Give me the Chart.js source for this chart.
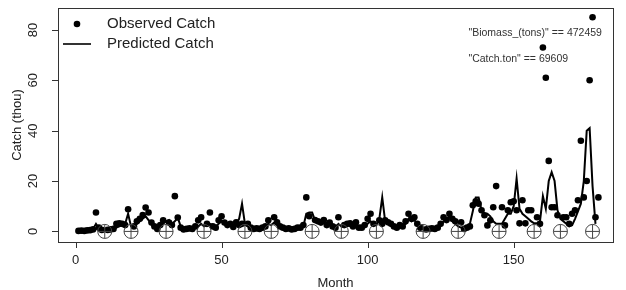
<!DOCTYPE html>
<html>
<head>
<meta charset="utf-8">
<script src="https://cdn.jsdelivr.net/npm/chart.js@4"></script>
<style>
  html, body { margin: 0; padding: 0; background: #fff; }
  #wrap { width: 626px; height: 290px; }
</style>
</head>
<body>
<div id="wrap"><canvas id="catchChart" width="626" height="290"></canvas></div>
<script>
// month index 1..179
const months = Array.from({ length: 179 }, (_, i) => i + 1);

const observedCatch = [
  0.2, 0.3, 0.2, 0.4, 0.5, 0.8, 7.5, 1.5, 0.6, null,
  0.6, 0.8, 1.0, 3.0, 3.2, 3.0, 2.5, 8.8, null, 2.0,
  4.0, 5.0, 6.5, 9.5, 7.5, 3.5, 2.0, 1.0, 2.5, 4.4,
  null, 3.5, 2.5, 14, 5.5, 1.5, 0.8, 1.0, 1.2, 1.0,
  2.0, 4.4, 5.6, null, 3.0, 7.5, 2.0, 1.5, 4.4, 6.0,
  3.5, 2.5, 3.0, 1.8, 3.6, 2.5, 3.0, null, 3.0, 1.5,
  1.0, 1.2, 1.0, 1.5, 2.0, 4.4, null, 5.6, 3.6, 2.0,
  1.5, 1.0, 1.2, 0.8, 1.0, 1.5, 1.5, 2.5, 13.5, 6.0,
  null, 4.5, 4.0, 3.5, 4.5, 2.5, 3.5, 2.0, 1.5, 5.6,
  null, 2.5, 3.0, 3.2, 2.0, 3.6, 1.5, 1.5, 2.5, 5.0,
  7.0, 3.0, null, 4.4, 3.0, 4.4, 3.6, 3.0, 2.0, 1.5,
  2.5, 2.0, 4.0, 7.0, 5.0, 5.6, 3.0, 1.5, null, 0.8,
  1.0, 1.2, 1.0, 1.5, 3.0, 5.6, 4.5, 7.0, 5.0, 4.0,
  null, 3.6, 1.0, 1.5, 2.0, 10.4, 12.0, 11.0, 8.4, 6.4,
  2.4, 4.4, 9.6, 18, null, 9.6, 2.4, 8.4, 11.6, 12.0,
  8.4, 3.2, 12.4, 3.2, 8.4, 8.4, null, 5.6, 3.0, 73,
  61, 28, 9.6, 9.6, 6.4, null, 5.6, 5.6, 3.0, 7.0,
  8.4, 12.4, 36, 13.5, 20, 60, 85, 5.6, 13.5
];

const predictedCatch = [
  0.3, 0.3, 0.3, 0.4, 0.5, 1.0, 3.0, 1.2, 0.5, 0.3,
  0.5, 0.8, 0.7, 1.5, 2.0, 2.5, 3.0, 7.0, 2.0, 1.5,
  3.0, 4.0, 5.0, 6.0, 4.5, 3.0, 2.0, 1.5, 2.0, 3.0,
  4.0, 4.5, 3.0, 4.0, 5.5, 2.0, 1.0, 0.8, 1.0, 1.2,
  1.5, 2.0, 3.0, 2.0, 2.5, 3.0, 2.5, 2.0, 3.0, 4.0,
  3.0, 2.5, 2.5, 2.0, 3.0, 5.0, 11.0, 3.0, 2.0, 1.5,
  1.2, 1.0, 1.2, 1.5, 2.0, 3.0, 2.5, 3.5, 2.5, 2.0,
  1.5, 1.2, 1.0, 0.8, 1.0, 1.2, 1.5, 2.0, 7.0, 7.5,
  7.5, 4.4, 3.5, 3.0, 3.5, 3.0, 2.5, 2.0, 1.5, 3.0,
  2.0, 2.0, 2.5, 2.0, 1.5, 2.5, 2.0, 1.5, 2.0, 3.0,
  4.0, 3.0, 2.5, 5.0, 13.5, 4.0, 3.0, 2.5, 2.0, 1.5,
  2.0, 2.5, 3.0, 5.0, 4.0, 4.5, 3.0, 1.5, 1.0, 0.8,
  0.8, 1.0, 1.2, 1.5, 2.5, 4.0, 5.0, 6.0, 4.0, 3.0,
  2.0, 1.5, 1.2, 1.5, 3.0, 8.0, 13.5, 13.5, 8.4, 7.0,
  7.0, 6.0, 4.0, 3.0, 3.0, 3.0, 5.0, 7.0, 7.0, 10.0,
  21.0, 9.0, 7.0, 6.0, 5.0, 4.0, 3.2, 3.2, 4.0, 14.0,
  9.0, 20.0, 23.5, 20.0, 8.4, 5.0, 4.0, 3.0, 2.0, 2.5,
  5.0, 8.0, 11.0, 20.0, 40.0, 41.0, 18.0, 3.0, null
];

// months marked with the crossed circle symbol (drawn at zero)
const markedMonths = [10, 19, 31, 44, 58, 67, 81, 91, 103, 119, 131, 145, 157, 166, 177];

const xTicks = [0, 50, 100, 150];
const yTicks = [0, 20, 40, 60, 80];

const legendLabels = ["Observed Catch", "Predicted Catch"];
const annotations = [
  { text: '"Biomass_(tons)" == 472459', x: 134.5, y: 78.8 },
  { text: '"Catch.ton" == 69609', x: 134.5, y: 68.5 },
];

const FONT = '"Liberation Sans", Arial, Helvetica, sans-serif';

function toPoints(xs, ys) {
  return xs.map((x, i) => ({ x: x, y: ys[i] }));
}

// base-graphics style box, axes, labels and legend
const baseAxes = {
  id: "baseAxes",
  afterDraw(chart) {
    const { ctx, chartArea: a, scales } = chart;
    const x = scales.x;
    const y = scales.y;
    ctx.save();
    ctx.strokeStyle = "#333";
    ctx.fillStyle = "#222";
    ctx.lineWidth = 1;
    ctx.strokeRect(a.left + 0.5, a.top + 0.5, a.right - a.left, a.bottom - a.top);

    // x axis
    ctx.font = "13px " + FONT;
    ctx.textAlign = "center";
    ctx.textBaseline = "middle";
    ctx.beginPath();
    ctx.moveTo(Math.round(x.getPixelForValue(xTicks[0])) + 0.5, a.bottom + 0.5);
    ctx.lineTo(Math.round(x.getPixelForValue(xTicks[xTicks.length - 1])) + 0.5, a.bottom + 0.5);
    xTicks.forEach((v) => {
      const px = Math.round(x.getPixelForValue(v)) + 0.5;
      ctx.moveTo(px, a.bottom);
      ctx.lineTo(px, a.bottom + 6);
    });
    ctx.stroke();
    xTicks.forEach((v) => {
      ctx.fillText(String(v), x.getPixelForValue(v), a.bottom + 18);
    });
    ctx.fillText("Month", (a.left + a.right) / 2, a.bottom + 41);

    // y axis
    ctx.beginPath();
    yTicks.forEach((v) => {
      const py = Math.round(y.getPixelForValue(v)) + 0.5;
      ctx.moveTo(a.left, py);
      ctx.lineTo(a.left - 6, py);
    });
    ctx.stroke();
    yTicks.forEach((v) => {
      ctx.save();
      ctx.translate(a.left - 25, y.getPixelForValue(v));
      ctx.rotate(-Math.PI / 2);
      ctx.fillText(String(v), 0, 0);
      ctx.restore();
    });
    ctx.save();
    ctx.translate(17, (a.top + a.bottom) / 2);
    ctx.rotate(-Math.PI / 2);
    ctx.fillText("Catch (thou)", 0, 0);
    ctx.restore();

    // legend, top left inside the box
    ctx.font = "15px " + FONT;
    ctx.textAlign = "left";
    ctx.fillStyle = "#000";
    ctx.beginPath();
    ctx.arc(a.left + 19, a.top + 16, 3.3, 0, Math.PI * 2);
    ctx.fill();
    ctx.lineWidth = 2;
    ctx.beginPath();
    ctx.moveTo(a.left + 5, a.top + 36);
    ctx.lineTo(a.left + 33, a.top + 36);
    ctx.stroke();
    ctx.fillStyle = "#222";
    ctx.fillText(legendLabels[0], a.left + 49, a.top + 16);
    ctx.fillText(legendLabels[1], a.left + 49, a.top + 36);

    // text annotations
    ctx.font = "10.5px " + FONT;
    ctx.fillStyle = "#333";
    annotations.forEach((t) => {
      ctx.fillText(t.text, x.getPixelForValue(t.x), y.getPixelForValue(t.y));
    });
    ctx.restore();
  },
};

const zeros = markedMonths.map(() => 0);

new Chart(document.getElementById("catchChart"), {
  type: "scatter",
  data: {
    datasets: [
      {
        label: "Predicted Catch",
        data: toPoints(months, predictedCatch),
        showLine: true,
        borderColor: "#000",
        borderWidth: 2,
        pointRadius: 0,
        tension: 0,
        order: 1,
      },
      {
        label: "Observed Catch",
        data: toPoints(months, observedCatch),
        backgroundColor: "#000",
        borderColor: "#000",
        pointRadius: 3.3,
        borderWidth: 0,
        order: 2,
      },
      {
        label: "marked",
        data: toPoints(markedMonths, zeros),
        pointStyle: "circle",
        pointRadius: 7,
        backgroundColor: "rgba(0,0,0,0)",
        borderColor: "#444",
        borderWidth: 1,
        order: 0,
      },
      {
        label: "marked cross",
        data: toPoints(markedMonths, zeros),
        pointStyle: "cross",
        pointRadius: 7,
        borderColor: "#444",
        borderWidth: 1,
        order: 0,
      },
    ],
  },
  options: {
    responsive: false,
    devicePixelRatio: 1,
    animation: false,
    layout: { padding: { left: 58, top: 8, right: 13, bottom: 48 } },
    plugins: {
      legend: { display: false },
      tooltip: { enabled: false },
    },
    scales: {
      x: { type: "linear", min: -6, max: 184, display: false },
      y: { type: "linear", min: -4.2, max: 88.7, display: false },
    },
  },
  plugins: [baseAxes],
});
</script>
</body>
</html>
